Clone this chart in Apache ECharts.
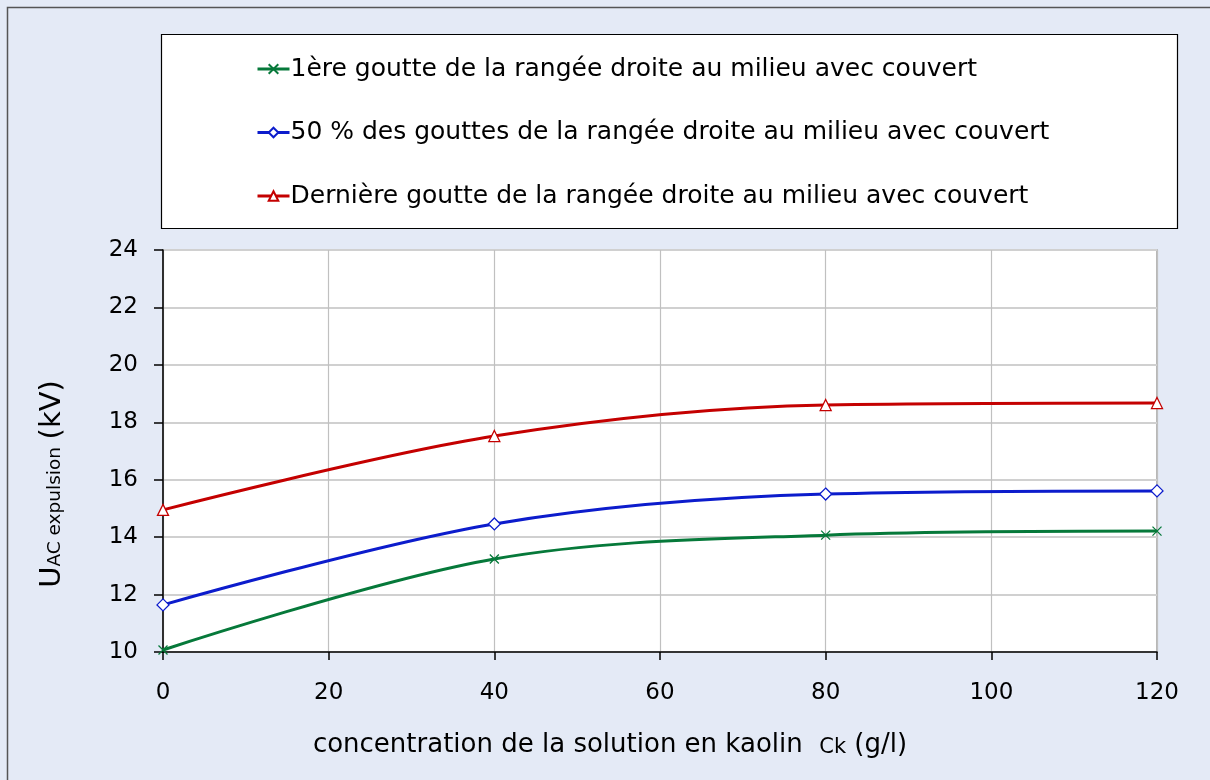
<!DOCTYPE html>
<html>
<head>
<meta charset="utf-8">
<script src="https://cdn.jsdelivr.net/npm/echarts@6/dist/echarts.min.js"></script>
<style>
  html, body { margin: 0; padding: 0; background: #e4eaf6; }
  #chart { width: 1210px; height: 780px; }
</style>
</head>
<body>
<div id="chart"></div>
<script>
// Kaolin concentration (g/l)
const concentrations = [0, 40, 80, 120];

// Expulsion voltage UAC (kV) for each drop group
const firstDrop = [10.07, 13.24, 14.07, 14.21];
const halfDrops = [11.64, 14.46, 15.50, 15.61];
const lastDrop = [14.95, 17.52, 18.60, 18.67];

const seriesNames = [
  '1ère goutte de la rangée droite au milieu avec couvert',
  '50 % des gouttes de la rangée droite au milieu avec couvert',
  'Dernière goutte de la rangée droite au milieu avec couvert'
];

const FONT = 'DejaVu Sans';
const pairs = (ys) => concentrations.map((x, i) => [x, ys[i]]);

function lineSeries(name, ys, color, symbol, size) {
  return {
    name: name,
    type: 'line',
    data: pairs(ys),
    smooth: 0.34,
    symbol: symbol,
    symbolSize: size,
    showAllSymbol: true,
    lineStyle: { color: color, width: 3 },
    itemStyle: { color: '#ffffff', borderColor: color, borderWidth: 1.3 },
    emphasis: { disabled: true },
    z: 3
  };
}

const chart = echarts.init(document.getElementById('chart'), null, { renderer: 'canvas' });

chart.setOption({
  backgroundColor: '#e4eaf6',
  animation: false,
  graphic: [
    {
      type: 'rect',
      shape: { x: 7.5, y: 7.5, width: 1220, height: 790 },
      style: { fill: 'none', stroke: '#555555', lineWidth: 1.5 },
      silent: true,
      z: -10
    },
    {
      type: 'rect',
      shape: { x: 161.5, y: 34.5, width: 1016, height: 194 },
      style: { fill: '#ffffff', stroke: '#000000', lineWidth: 1.2 },
      silent: true,
      z: -5
    }
  ],
  grid: {
    left: 163, right: 53, top: 250, bottom: 128,
    show: true, backgroundColor: '#ffffff', borderColor: '#a0a0a0', borderWidth: 1.5
  },
  legend: {
    orient: 'vertical',
    left: 251,
    top: 51,
    itemWidth: 32,
    itemHeight: 12,
    itemGap: 37.5,
    selectedMode: false,
    lineStyle: { width: 3 },
    textStyle: { fontFamily: FONT, fontSize: 25, lineHeight: 26, color: '#000000', padding: [0, 0, 0, -4] },
    data: seriesNames
  },
  xAxis: {
    type: 'value',
    min: 0, max: 120, interval: 20,
    name: 'concentration de la solution en kaolin  {s|Ck} (g/l)',
    nameLocation: 'middle',
    nameGap: 80,
    nameTextStyle: {
      fontFamily: FONT, fontSize: 26, color: '#000000',
      padding: [0, 100, 0, 0],
      rich: { s: { fontFamily: FONT, fontSize: 21, color: '#000000', verticalAlign: 'bottom' } }
    },
    axisLine: { show: true, onZero: false, lineStyle: { color: '#000000', width: 1.5 } },
    axisTick: { show: true, inside: false, length: 8, lineStyle: { color: '#000000', width: 1.5 } },
    axisLabel: { fontFamily: FONT, fontSize: 23, color: '#000000', margin: 30 },
    splitLine: { show: true, lineStyle: { color: '#c0c0c0', width: 1.2 } }
  },
  yAxis: {
    type: 'value',
    min: 10, max: 24, interval: 2,
    name: '{u|U}{s|AC expulsion}  {u|(kV)}',
    nameLocation: 'middle',
    nameRotate: 90,
    nameGap: 96,
    nameTextStyle: {
      fontFamily: FONT, color: '#000000',
      padding: [0, 66, 0, 0],
      rich: {
        u: { fontFamily: FONT, fontSize: 29, color: '#000000', verticalAlign: 'bottom' },
        s: { fontFamily: FONT, fontSize: 18.5, color: '#000000', verticalAlign: 'bottom', padding: [0, 0, 2, 0] }
      }
    },
    axisLine: { show: true, lineStyle: { color: '#000000', width: 1.5 } },
    axisTick: { show: true, inside: false, length: 9, lineStyle: { color: '#000000', width: 1.5 } },
    axisLabel: { fontFamily: FONT, fontSize: 23, color: '#000000', margin: 25 },
    splitLine: { show: true, lineStyle: { color: '#d0d0d0', width: 2 } }
  },
  series: [
    lineSeries(seriesNames[0], firstDrop, '#06793a', 'path://M0,0L10,10M10,0L0,10', 9),
    lineSeries(seriesNames[1], halfDrops, '#0c1ccc', 'diamond', 12),
    lineSeries(seriesNames[2], lastDrop, '#c40000', 'triangle', 11)
  ]
});
</script>
</body>
</html>
